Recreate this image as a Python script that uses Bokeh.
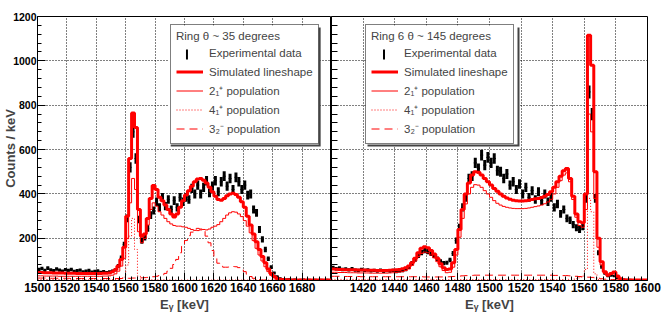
import numpy as np
from bokeh.plotting import figure
from bokeh.models import Range1d, FixedTicker, Legend, LegendItem, BoxAnnotation
from bokeh.layouts import row
from bokeh.embed import file_html
from bokeh.resources import INLINE

# ---------------- data (2 keV bins) ----------------
BIN_WIDTH = 2.0
left_first_edge = 1500.0
right_first_edge = 1400.0

# Ring theta ~ 35 degrees, bins 1500-1700 keV
left_data = [60, 64, 56, 66, 58, 54, 62, 57, 52, 59, 55, 60, 51, 54, 57, 49, 52, 55, 48, 51, 53, 47, 50, 46, 49,
             52, 58, 76, 112, 172, 290, 520, 680, 560, 285, 190, 205, 245, 305, 325, 365, 340, 385, 345, 375, 330, 370, 340, 385, 365,
             385, 375, 425, 400, 440, 400, 430, 460, 405, 435, 460, 410, 455, 480, 435, 470, 420, 475, 455, 420, 440, 395, 400, 330, 315,
             240, 195, 150, 108, 70, 44, 28, 20, 16, 15, 16, 14, 15, 13, 14, 15, 13, 14, 13, 14, 13, 14, 13, 14, 13]
left_total = [46, 46, 45, 45, 45, 44, 44, 44, 44, 43, 43, 43, 43, 42, 42, 42, 42, 42, 42, 42, 42, 42, 43, 43, 44,
              50, 58, 75, 105, 160, 300, 560, 765, 700, 330, 210, 220, 290, 380, 438, 420, 385, 370, 350, 330, 310, 296, 310, 340, 370,
              395, 415, 435, 455, 468, 470, 462, 450, 430, 410, 390, 375, 372, 380, 392, 400, 403, 398, 385, 365, 340, 300, 260, 220, 185,
              150, 118, 90, 62, 42, 28, 20, 16, 14, 13, 13, 12, 12, 12, 12, 12, 12, 12, 12, 12, 12, 12, 12, 12, 12]
left_pop21 = [31, 31, 30, 30, 30, 30, 30, 29, 29, 29, 29, 29, 29, 29, 29, 29, 29, 29, 29, 29, 29, 29, 30, 30, 31,
              34, 40, 52, 75, 110, 200, 360, 470, 420, 230, 180, 200, 260, 330, 360, 345, 320, 305, 290, 275, 265, 258, 255, 255, 252,
              250, 245, 240, 236, 235, 238, 240, 238, 242, 250, 255, 262, 275, 290, 305, 315, 320, 318, 310, 298, 280, 255, 225, 190, 155,
              125, 98, 72, 50, 33, 22, 15, 12, 11, 10, 10, 10, 10, 10, 10, 10, 10, 10, 10, 10, 10, 10, 10, 10, 10]
left_pop41 = [14, 14, 14, 14, 14, 14, 14, 14, 13, 13, 13, 13, 13, 13, 13, 13, 13, 13, 13, 13, 13, 13, 13, 13, 13,
              14, 14, 15, 18, 25, 80, 210, 290, 150, 30, 14, 13, 13, 13, 13, 13, 13, 13, 13, 13, 13, 12, 12, 12, 12,
              12, 12, 12, 12, 12, 12, 12, 12, 12, 12, 12, 12, 12, 12, 12, 12, 12, 12, 12, 12, 12, 12, 12, 12, 12,
              12, 12, 12, 12, 11, 11, 11, 11, 11, 11, 11, 11, 11, 11, 11, 11, 11, 11, 11, 11, 11, 11, 11, 11, 11]
left_pop32 = [21, 21, 21, 20, 20, 20, 20, 20, 20, 20, 20, 19, 19, 19, 19, 19, 19, 19, 19, 19, 19, 19, 19, 19, 19,
              19, 19, 19, 19, 20, 20, 20, 21, 21, 22, 22, 23, 24, 25, 27, 29, 32, 36, 42, 52, 65, 82, 105, 135, 165,
              190, 212, 228, 240, 245, 242, 232, 210, 180, 145, 112, 88, 74, 70, 70, 72, 73, 72, 68, 60, 50, 38, 28, 20, 15,
              13, 12, 12, 11, 11, 11, 11, 11, 11, 11, 11, 11, 11, 11, 11, 11, 11, 11, 11, 11, 11, 11, 11, 11, 11]

# Ring 6 theta ~ 145 degrees, bins 1400-1600 keV
right_data = [68, 63, 66, 60, 62, 58, 63, 57, 55, 60, 56, 58, 53, 56, 52, 57, 51, 54, 52, 56, 50, 53, 55, 60, 70,
              88, 105, 122, 136, 145, 140, 132, 122, 108, 96, 88, 90, 102, 132, 190, 250, 340, 385, 470, 480, 540, 515, 575, 530, 565,
              540, 560, 505, 500, 470, 490, 440, 455, 420, 445, 400, 430, 385, 415, 375, 410, 370, 400, 365, 385, 340, 355, 310, 330, 290,
              282, 262, 248, 240, 252, 380, 860, 760, 380, 135, 72, 42, 30, 33, 30, 22, 17, 15, 14, 14, 13, 13, 12, 13, 12]
right_total = [62, 61, 60, 60, 59, 59, 58, 58, 57, 57, 57, 56, 56, 56, 55, 55, 55, 55, 56, 57, 58, 60, 63, 68, 75,
               90, 110, 135, 155, 162, 158, 145, 130, 110, 85, 68, 60, 62, 90, 150, 240, 330, 400, 450, 485, 500, 498, 485, 470, 455,
               440, 425, 412, 400, 390, 382, 376, 372, 370, 368, 368, 370, 372, 375, 378, 380, 384, 390, 398, 410, 430, 455, 480, 505, 515,
               470, 390, 310, 275, 270, 400, 1116, 980, 500, 200, 95, 50, 35, 42, 48, 30, 18, 13, 12, 12, 12, 12, 12, 12, 12]
right_pop21 = [47, 47, 46, 46, 46, 45, 45, 45, 44, 44, 44, 44, 43, 43, 43, 43, 43, 43, 44, 45, 46, 48, 50, 55, 62,
               78, 98, 118, 132, 138, 135, 125, 112, 95, 72, 55, 45, 47, 70, 125, 205, 290, 355, 400, 430, 442, 440, 430, 415, 400,
               385, 370, 358, 350, 344, 340, 337, 335, 334, 334, 334, 335, 337, 340, 343, 346, 350, 356, 364, 376, 400, 430, 460, 485, 495,
               455, 375, 295, 258, 250, 330, 760, 680, 380, 160, 80, 42, 30, 38, 44, 26, 15, 11, 10, 10, 10, 10, 10, 10, 10]
right_pop41 = [15, 15, 15, 15, 15, 15, 15, 15, 15, 15, 15, 15, 15, 15, 15, 15, 15, 15, 15, 15, 15, 15, 15, 15, 15,
               15, 15, 15, 15, 15, 15, 15, 14, 14, 14, 14, 14, 14, 14, 14, 14, 14, 14, 14, 14, 14, 14, 14, 14, 14,
               14, 14, 14, 14, 14, 14, 14, 14, 14, 14, 14, 14, 14, 14, 14, 14, 14, 14, 14, 14, 14, 14, 14, 14, 15,
               15, 16, 18, 22, 30, 60, 380, 320, 40, 14, 12, 12, 12, 12, 12, 12, 12, 12, 12, 12, 12, 12, 12, 12, 12]
right_pop32 = [29, 29, 29, 28, 28, 28, 28, 28, 28, 27, 27, 27, 27, 27, 27, 27, 27, 27, 27, 27, 27, 27, 27, 27, 27,
               27, 27, 27, 27, 26, 26, 26, 26, 26, 26, 26, 26, 27, 28, 29, 30, 31, 32, 33, 33, 34, 34, 34, 34, 34,
               34, 34, 34, 34, 34, 34, 34, 34, 34, 34, 34, 34, 34, 34, 34, 34, 34, 34, 34, 34, 33, 33, 33, 32, 32,
               31, 30, 29, 28, 27, 26, 25, 24, 22, 20, 18, 16, 15, 14, 14, 13, 13, 13, 13, 13, 13, 13, 13, 13, 13]

left_xticks = [1500, 1520, 1540, 1560, 1580, 1600, 1620, 1640, 1660, 1680]
left_xtick_labels = ["1500", "1520", "1540", "1560", "1580", "1600", "1620", "1640", "1660", "1680"]
right_xticks = [1420, 1440, 1460, 1480, 1500, 1520, 1540, 1560, 1580, 1600]
right_xtick_labels = ["1420", "1440", "1460", "1480", "1500", "1520", "1540", "1560", "1580", "1600"]
y_ticks = [200, 400, 600, 800, 1000, 1200]
y_tick_labels = ["200", "400", "600", "800", "1000", "1200"]

left_title = "Ring θ ~ 35 degrees"
right_title = "Ring 6 θ ~ 145 degrees"
legend_labels = ["Experimental data", "Simulated lineshape", "2₁⁺ population", "4₁⁺ population", "3₂⁻ population"]

FONT = "Liberation Sans"
RED = "#ff0000"

FRAME_TOP, FRAME_BOTTOM = 16, 280
Y_RANGE = (10, 1200)
LEG_W, LEG_H, LEG_BOTTOM_OFF = 152, 119, 136


def make_panel(width, min_left, min_right, xr, frame_px, first_edge, data, total, p21, p41, p32,
               xticks, xlabels, show_ylabels, title, legend_x):
    p = figure(width=width, height=319, x_range=Range1d(*xr), y_range=Range1d(*Y_RANGE),
               output_backend="svg", toolbar_location=None,
               min_border_left=min_left, min_border_right=min_right,
               min_border_top=FRAME_TOP, min_border_bottom=319 - FRAME_BOTTOM)
    p.outline_line_color = "black"
    p.outline_line_width = 1
    p.background_fill_color = "white"
    p.border_fill_color = "white"

    n = len(data)
    edges = first_edge + BIN_WIDTH * np.arange(n + 1)
    centers = edges[:-1] + BIN_WIDTH / 2
    d = np.asarray(data, float)
    err = np.sqrt(d)
    p.segment(x0=centers, y0=d - err, x1=centers, y1=d + err, line_color="black", line_width=3.0)
    p.segment(x0=edges[:-1], y0=d, x1=edges[1:], y1=d, line_color="black", line_width=1)

    def hist(vals, **kw):
        v = np.asarray(vals, float)
        return p.step(x=edges, y=np.append(v, v[-1]), mode="after", line_color=RED, **kw)

    r32 = hist(p32, line_width=1, line_dash="8 5")
    r41 = hist(p41, line_width=1, line_dash="1 2")
    r21 = hist(p21, line_width=1)
    rtot = hist(total, line_width=3)
    rdata = p.scatter(x=[np.nan], y=[np.nan], marker="dash", size=10,
                      line_color="black", line_width=2.5, line_alpha=0.0)

    # pixel -> data helpers for the legend decorations (the legend itself is drawn last)
    fx0, fx1 = frame_px
    kev_per_px = (xr[1] - xr[0]) / (fx1 - fx0)
    cnt_per_px = (Y_RANGE[1] - Y_RANGE[0]) / (FRAME_BOTTOM - FRAME_TOP)
    px_x = lambda sx: xr[0] + (sx - fx0) * kev_per_px
    px_y = lambda sy: Y_RANGE[0] + (FRAME_BOTTOM - sy) * cnt_per_px

    leg_left = fx0 + legend_x
    leg_bottom = FRAME_BOTTOM - LEG_BOTTOM_OFF
    leg_top = leg_bottom - LEG_H
    p.add_layout(BoxAnnotation(left=px_x(leg_left + 2), right=px_x(leg_left + LEG_W + 2),
                               bottom=px_y(leg_bottom + 2), top=px_y(leg_top + 2),
                               fill_color="#444444", fill_alpha=1.0, line_alpha=0.0))
    p.add_layout(BoxAnnotation(left=px_x(leg_left), right=px_x(leg_left + LEG_W),
                               bottom=px_y(leg_bottom), top=px_y(leg_top),
                               fill_color="white", fill_alpha=1.0, line_alpha=0.0))
    bar_cx = leg_left + 5 + 13.5
    p.add_layout(BoxAnnotation(left=px_x(bar_cx - 1), right=px_x(bar_cx + 1),
                               bottom=px_y(leg_top + 34), top=px_y(leg_top + 24),
                               fill_color="black", fill_alpha=1.0, line_alpha=0.0))

    items = [LegendItem(label=lab, renderers=[r]) for lab, r in
             zip(legend_labels, [rdata, rtot, r21, r41, r32])]
    leg = Legend(items=items, title=title, location=(legend_x, LEG_BOTTOM_OFF),
                 label_text_font=FONT, label_text_font_size="11.5px",
                 title_text_font=FONT, title_text_font_size="11.5px", title_text_font_style="normal",
                 title_text_align="center",
                 glyph_width=27, glyph_height=19, label_height=19, spacing=0,
                 padding=5, margin=0, label_standoff=6, title_standoff=1,
                 border_line_color="black", border_line_width=1,
                 background_fill_alpha=0.0)
    p.add_layout(leg)

    x_minor = list(np.arange(xr[0], xr[1] + 0.1, 4.0))
    xt = FixedTicker(ticks=xticks, minor_ticks=x_minor)
    p.xaxis.ticker = xt
    p.xgrid.ticker = xt
    p.xaxis.major_label_overrides = {float(t): s for t, s in zip(xticks, xlabels)}
    y_minor = list(np.arange(40, 1200, 40.0))
    yt = FixedTicker(ticks=y_ticks, minor_ticks=y_minor)
    p.ygrid.ticker = yt
    if show_ylabels:
        p.yaxis.ticker = yt
        p.yaxis.major_label_overrides = {float(t): s for t, s in zip(y_ticks, y_tick_labels)}
    else:
        p.yaxis.ticker = FixedTicker(ticks=[], minor_ticks=y_minor)

    for ax in (p.xaxis[0], p.yaxis[0]):
        ax.axis_line_color = "black"
        ax.major_tick_in = 8
        ax.major_tick_out = 0
        ax.minor_tick_in = 4
        ax.minor_tick_out = 0
        ax.major_tick_line_color = "black"
        ax.minor_tick_line_color = "black"
        ax.major_label_text_font = FONT
        ax.major_label_text_font_style = "bold"
        ax.major_label_text_color = "black"
    p.xaxis.major_label_text_font_size = "12px"
    p.xaxis.major_label_standoff = 2
    p.xaxis.axis_label = "Eᵧ [keV]"
    p.xaxis.axis_label_text_font = FONT
    p.xaxis.axis_label_text_font_style = "bold"
    p.xaxis.axis_label_text_font_size = "13px"
    p.xaxis.axis_label_standoff = 2
    if show_ylabels:
        p.yaxis.major_label_text_font_size = "10.5px"
        p.yaxis.major_label_standoff = 1
        p.yaxis.axis_label = "Counts / keV"
        p.yaxis.axis_label_text_font = FONT
        p.yaxis.axis_label_text_font_style = "bold"
        p.yaxis.axis_label_text_font_size = "13px"
        p.yaxis.axis_label_standoff = -8
    else:
        p.yaxis.minor_tick_in = 6
        p.yaxis.major_label_standoff = 0

    for g in (p.xgrid[0], p.ygrid[0]):
        g.grid_line_color = "black"
        g.grid_line_dash = "1 2"
        g.grid_line_width = 1
    return p


left = make_panel(331, 33, 0, (1500, 1700), (33, 331), left_first_edge, left_data, left_total,
                  left_pop21, left_pop41, left_pop32, left_xticks, left_xtick_labels,
                  True, left_title, 133)
right = make_panel(333, 0, 17, (1400, 1600), (331, 647), right_first_edge, right_data, right_total,
                   right_pop21, right_pop41, right_pop32, right_xticks, right_xtick_labels,
                   False, right_title, 34)

layout = row(left, right)
open("out.html", "w").write(file_html(layout, INLINE))
